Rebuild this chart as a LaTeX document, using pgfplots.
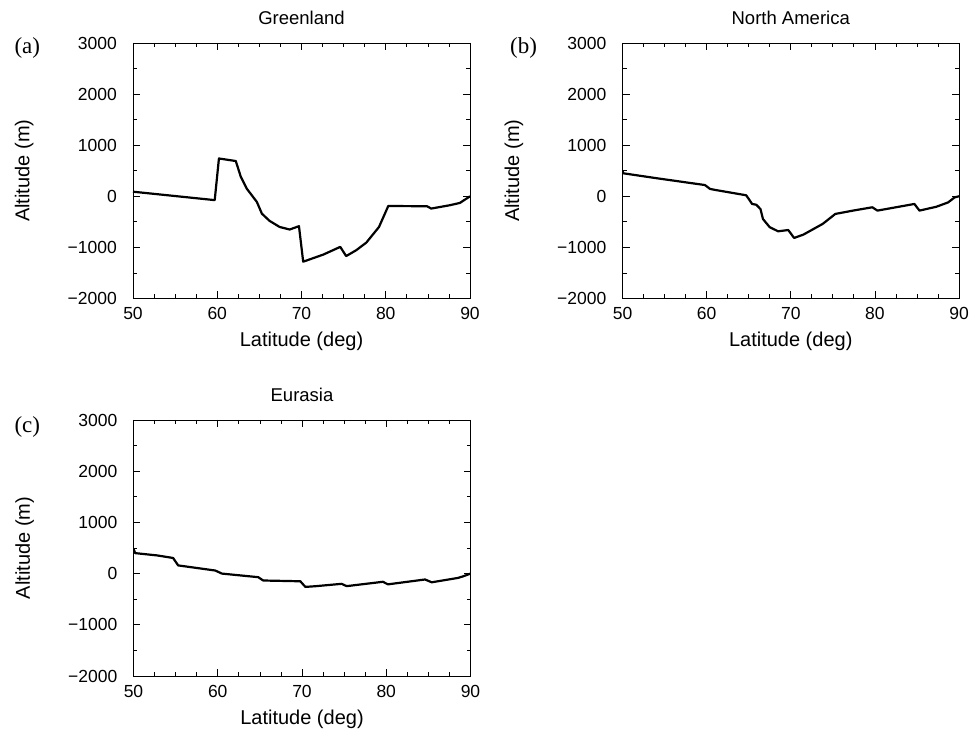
\documentclass[border=0pt]{standalone}
\usepackage{pgfplots}
\pgfplotsset{compat=1.18}
\usepackage{fontspec}
\setmainfont{Liberation Sans}
\newfontfamily\seriffont{Liberation Serif}

\pgfplotstableread{
lat alt
50 90
59.7 -75
60.2 740
62.2 690
62.8 380
63.5 150
64.7 -110
65.3 -340
66.2 -480
67.4 -600
68.6 -650
69.7 -585
70.2 -1280
72.6 -1140
74.6 -990
75.3 -1170
76.5 -1055
77.7 -905
79.2 -600
80.3 -190
84.9 -195
85.4 -240
87.6 -175
88.8 -130
90 0
}\greenland

\pgfplotstableread{
lat alt
50 500
50.1 450
54.0 355
59.8 220
60.4 145
61.0 125
64.7 20
65.0 -50
65.4 -150
65.9 -165
66.4 -250
66.7 -445
67.5 -605
68.5 -685
69.7 -660
70.4 -815
71.5 -750
73.8 -540
75.3 -345
77.4 -280
79.7 -215
80.3 -280
84.7 -150
85.3 -280
87.3 -205
88.7 -120
89.5 -20
90 0
}\namerica

\pgfplotstableread{
lat alt
50 485
50.2 400
52.8 355
54.7 305
55.3 160
59.7 60
60.5 0
64.8 -70
65.4 -135
69.8 -150
70.4 -260
71.7 -245
74.7 -200
75.3 -245
79.6 -160
80.2 -210
84.6 -115
85.4 -170
88.5 -85
89.1 -55
90 0
}\eurasia

\pgfplotsset{
  panel/.style={
    scale only axis,
    anchor=south west,
    xmin=50, xmax=90, ymin=-2000, ymax=3000,
    xtick={50,60,70,80,90},
    ytick={-2000,-1000,0,1000,2000,3000},
    yticklabels={−2000,−1000,0,1000,2000,3000},
    xticklabels={50,60,70,80,90},
    minor x tick num=3,
    minor y tick num=1,
    tick align=inside,
    xtick pos=both, ytick pos=both,
    major tick length=7pt,
    minor tick length=4pt,
    axis line style={line width=0.8pt},
    every tick/.style={line width=0.7pt, black},
    tick label style={font=\fontsize{17.5}{19}\selectfont},
    yticklabel style={anchor=east, inner sep=0pt, xshift=-16pt},
    xticklabel style={anchor=north, inner sep=0pt, yshift=-9pt},
    xlabel={Latitude (deg)},
    ylabel={Altitude (m)},
    label style={font=\fontsize{20}{22}\selectfont},
    xlabel style={at={([yshift=-48.5pt]axis description cs:0.5,0)}, anchor=base, inner sep=0pt},
    ylabel style={at={([xshift=-103.5pt]axis description cs:0,0.5)}, anchor=base, rotate=0, inner sep=0pt},
    title style={at={([yshift=12pt]axis description cs:0.5,1)}, anchor=base, inner sep=0pt, font=\fontsize{18.5}{20}\selectfont},
  },
  curve/.style={black, line width=2.2pt, line join=round, no markers}
}

\begin{document}
\begin{tikzpicture}[x=1pt,y=1pt]
\useasboundingbox (0,0) rectangle (975,735);

\begin{axis}[panel, at={(133pt,436.5pt)}, width=337pt, height=255.5pt, title={Greenland}]
\addplot[curve] table[x=lat,y=alt] {\greenland};
\end{axis}

\begin{axis}[panel, at={(622.5pt,436.5pt)}, width=336.5pt, height=255.5pt, title={North America}]
\addplot[curve] table[x=lat,y=alt] {\namerica};
\end{axis}

\begin{axis}[panel, at={(133.5pt,59pt)}, width=337pt, height=256pt, title={Eurasia}]
\addplot[curve] table[x=lat,y=alt] {\eurasia};
\end{axis}

\node[font=\seriffont\fontsize{23}{25}\selectfont, inner sep=0pt] at (27.3,686.7) {(a)};
\node[font=\seriffont\fontsize{23}{25}\selectfont, inner sep=0pt] at (523.5,686.7) {(b)};
\node[font=\seriffont\fontsize{23}{25}\selectfont, inner sep=0pt] at (27.3,308) {(c)};
\end{tikzpicture}
\end{document}
